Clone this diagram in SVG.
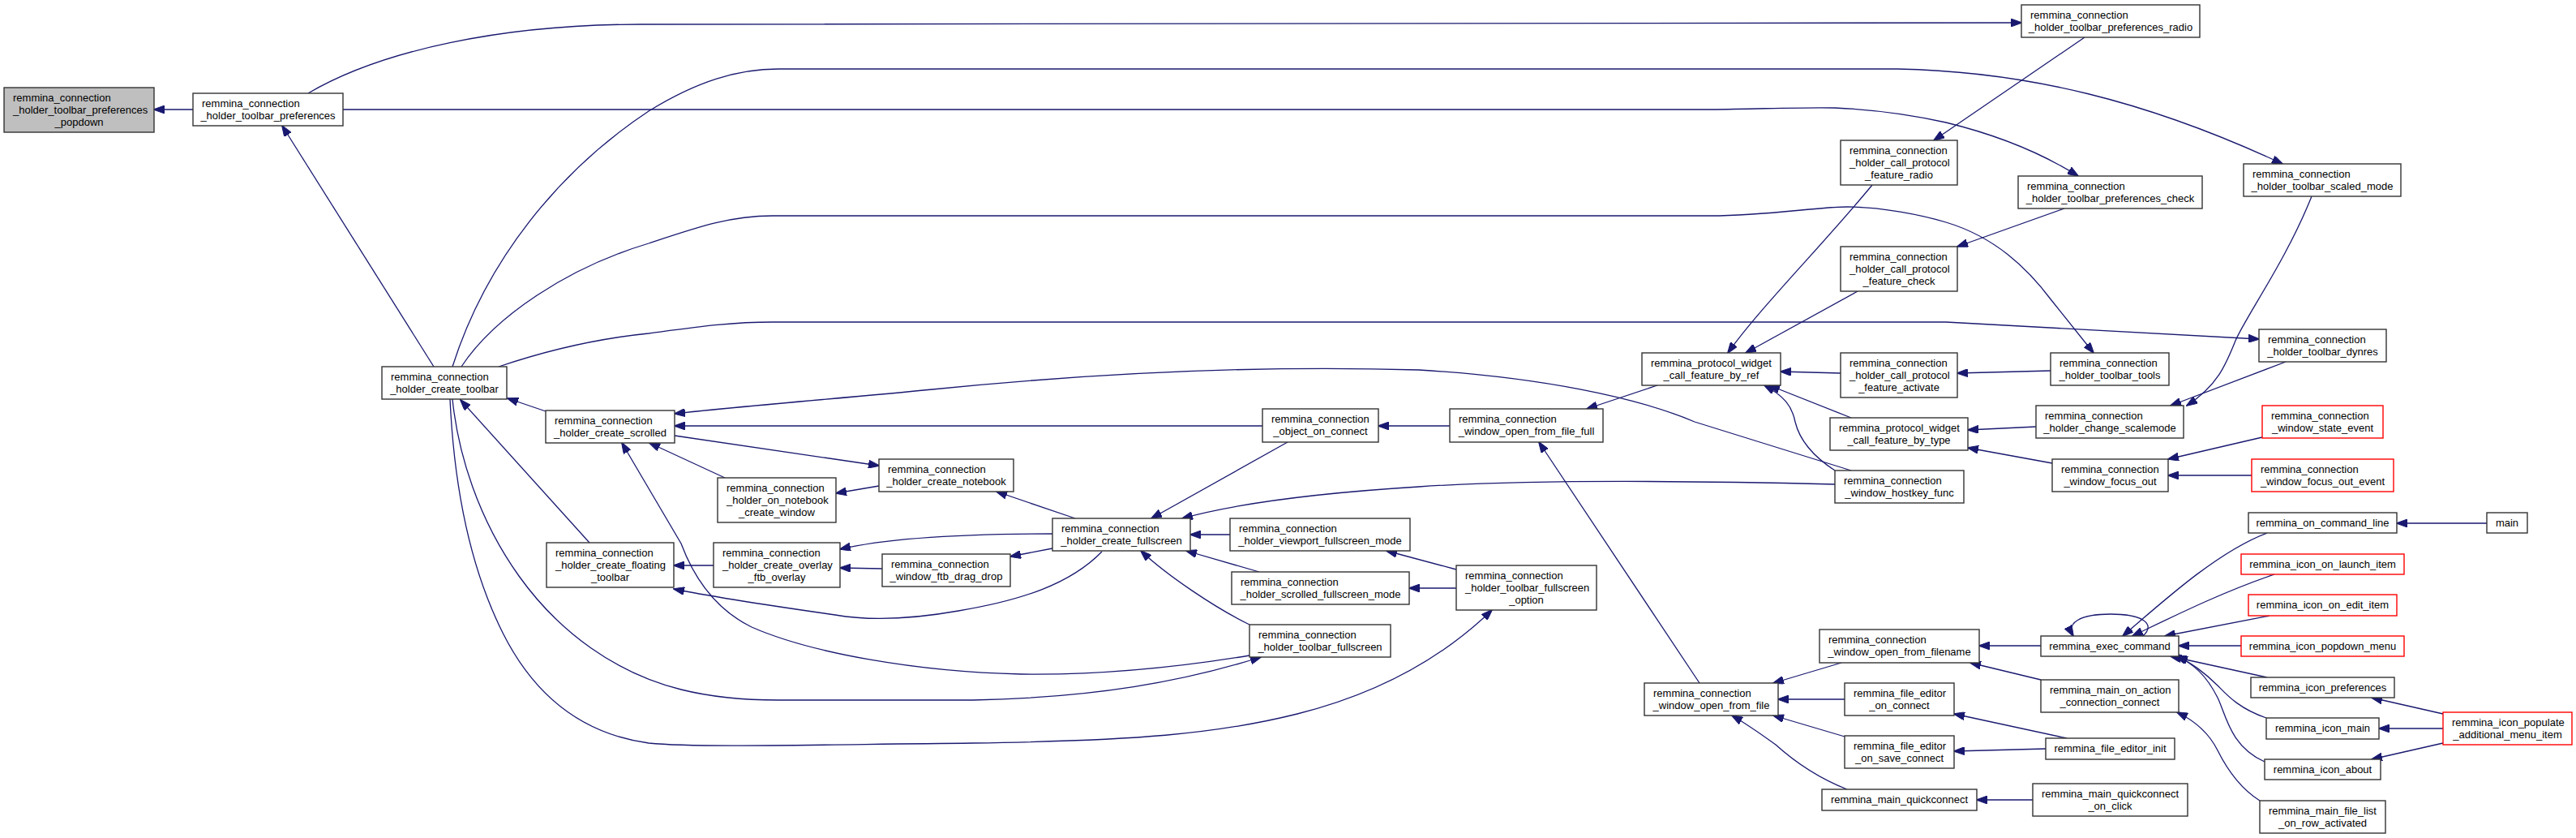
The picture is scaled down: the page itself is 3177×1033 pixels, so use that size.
<svg xmlns="http://www.w3.org/2000/svg" width="3177" height="1033" viewBox="0 0 3177 1033">
<style>
.n rect{fill:#fff;stroke:#333;stroke-width:1.4}
.n.red rect{stroke:#f00}
.n.root rect{fill:#bfbfbf}
.n text{font-family:'Liberation Sans',Arial,sans-serif;font-size:13px;fill:#000}
.n text.c{text-anchor:middle}
#edges path{fill:none;stroke:#191970;stroke-width:1.3;marker-end:url(#ah)}
</style>
<defs>
<marker id="ah" markerUnits="userSpaceOnUse" markerWidth="14" markerHeight="10" viewBox="0 0 14 10" refX="13" refY="5" orient="auto">
<path d="M0,0 L14,5 L0,10 z" fill="#191970" stroke="#191970"/>
</marker>
</defs>
<rect width="3177" height="1033" fill="#fff"/>
<g id="edges">
<path d="M238,135 L190,135"/>
<path d="M535,452 L348,155"/>
<path d="M380,115 C470,62 620,30 790,30 L2493,28"/>
<path d="M423,135 L2110,135 C2180,134 2230,132 2263,133 C2310,135 2360,142 2400,151 C2470,168 2520,190 2563,217"/>
<path d="M558,452 C600,320 690,210 800,137 C860,100 910,85 960,85 L2340,85 C2500,88 2650,125 2815,202"/>
<path d="M569,452 C610,390 700,330 800,300 C860,280 900,266 953,266 L2110,266 C2180,266 2240,255 2278,255 C2320,255 2370,265 2400,274 C2460,292 2500,330 2530,370 C2550,395 2570,420 2582,435"/>
<path d="M615,452 C680,430 740,417 800,411 C860,403 900,397 953,397 L2400,397 L2786,418"/>
<path d="M2283,580 L2090,520 C2020,490 1900,465 1750,456 C1550,450 1350,460 1150,480 C1050,490 920,500 832,510"/>
<path d="M673,507 L626,491"/>
<path d="M727,669 L568,493"/>
<path d="M558,492 C565,560 590,640 640,710 C690,780 760,830 840,850 C880,860 920,863 960,863 L1200,863 C1350,860 1460,840 1555,810"/>
<path d="M555,492 C560,600 580,700 620,780 C660,860 720,905 800,916 C860,922 1000,918 1200,916 C1400,913 1500,905 1600,880 C1700,855 1780,810 1840,752"/>
<path d="M1541,808 C1420,828 1330,832 1259,831 C1130,828 1000,805 927,773 C880,750 855,710 840,670 L767,546"/>
<path d="M1557,525 L832,525"/>
<path d="M832,537 L1084,574"/>
<path d="M894,589 L801,546"/>
<path d="M1084,599 L1031,608"/>
<path d="M1326,639 L1229,606"/>
<path d="M1298,658 C1200,658 1100,662 1036,677"/>
<path d="M1298,676 L1246,686"/>
<path d="M1088,701 L1036,700"/>
<path d="M880,697 L831,697"/>
<path d="M1359,680 C1320,720 1260,740 1182,753 C1120,764 1070,765 1030,758 C960,748 880,736 831,726"/>
<path d="M1517,659 L1468,659"/>
<path d="M1553,705 L1463,679"/>
<path d="M1541,770 C1500,750 1440,710 1407,679"/>
<path d="M1588,545 L1420,639"/>
<path d="M2263,597 C2100,593 1900,590 1750,600 C1620,608 1520,622 1458,639"/>
<path d="M1788,525 L1700,525"/>
<path d="M2096,842 L1898,545"/>
<path d="M1796,702 L1710,679"/>
<path d="M1796,725 L1738,725"/>
<path d="M2271,817 L2187,842"/>
<path d="M2275,862 L2193,862"/>
<path d="M2275,908 L2187,882"/>
<path d="M2278,973 C2250,962 2220,945 2190,918 C2165,900 2150,890 2136,882"/>
<path d="M2263,580 C2240,565 2220,545 2214,520 C2210,500 2200,488 2176,475"/>
<path d="M2283,515 L2182,475"/>
<path d="M2044,475 L1957,504"/>
<path d="M2309,228 C2250,300 2170,380 2131,435"/>
<path d="M2291,359 L2153,435"/>
<path d="M2270,460 L2196,458"/>
<path d="M2571,46 L2385,173"/>
<path d="M2546,257 L2414,304"/>
<path d="M2529,457 L2414,460"/>
<path d="M2851,242 C2820,320 2770,390 2757,420 C2745,450 2735,475 2697,500"/>
<path d="M2819,446 L2677,500"/>
<path d="M2511,526 L2427,530"/>
<path d="M2531,571 L2427,552"/>
<path d="M2790,539 L2674,566"/>
<path d="M2777,586 L2674,586"/>
<path d="M3067,645 L2956,645"/>
<path d="M2796,657 C2740,678 2680,730 2618,784"/>
<path d="M2805,708 C2740,730 2680,760 2630,784"/>
<path d="M2799,759 L2670,784"/>
<path d="M2764,796 L2687,796"/>
<path d="M2796,835 L2677,809"/>
<path d="M2795,885 C2760,873 2745,855 2735,845 C2720,830 2700,815 2685,809"/>
<path d="M2793,939 C2750,920 2745,880 2735,860 C2720,830 2700,815 2683,809"/>
<path d="M2643,784 C2660,768 2640,757 2603,757 C2565,757 2548,768 2557,784"/>
<path d="M3013,880 L2925,860"/>
<path d="M3013,898 L2934,898"/>
<path d="M3013,916 L2925,936"/>
<path d="M2787,987 C2760,970 2745,945 2735,925 C2725,905 2710,890 2685,878"/>
<path d="M2517,796 L2441,796"/>
<path d="M2517,838 L2430,817"/>
<path d="M2549,910 L2410,880"/>
<path d="M2523,923 L2410,926"/>
<path d="M2507,986 L2438,986"/>
</g>
<g id="popdown" class="n root"><rect x="5" y="108" width="185" height="55"/><text x="16" y="125">remmina_connection</text><text x="16" y="140">_holder_toolbar_preferences</text><text class="c" x="97.5" y="155">_popdown</text></g>
<g id="toolbar_preferences" class="n"><rect x="238" y="115" width="185" height="40"/><text x="249" y="132">remmina_connection</text><text class="c" x="330.5" y="147">_holder_toolbar_preferences</text></g>
<g id="create_toolbar" class="n"><rect x="471" y="452" width="154" height="40"/><text x="482" y="469">remmina_connection</text><text class="c" x="548" y="484">_holder_create_toolbar</text></g>
<g id="create_scrolled" class="n"><rect x="673" y="506" width="159" height="40"/><text x="684" y="523">remmina_connection</text><text class="c" x="752.5" y="538">_holder_create_scrolled</text></g>
<g id="create_floating_toolbar" class="n"><rect x="674" y="669" width="157" height="55"/><text x="685" y="686">remmina_connection</text><text x="685" y="701">_holder_create_floating</text><text class="c" x="752.5" y="716">_toolbar</text></g>
<g id="on_notebook_create_window" class="n"><rect x="885" y="589" width="146" height="55"/><text x="896" y="606">remmina_connection</text><text x="896" y="621">_holder_on_notebook</text><text class="c" x="958" y="636">_create_window</text></g>
<g id="create_notebook" class="n"><rect x="1084" y="566" width="166" height="40"/><text x="1095" y="583">remmina_connection</text><text class="c" x="1167" y="598">_holder_create_notebook</text></g>
<g id="create_overlay_ftb_overlay" class="n"><rect x="880" y="669" width="156" height="55"/><text x="891" y="686">remmina_connection</text><text x="891" y="701">_holder_create_overlay</text><text class="c" x="958" y="716">_ftb_overlay</text></g>
<g id="window_ftb_drag_drop" class="n"><rect x="1088" y="683" width="158" height="40"/><text x="1099" y="700">remmina_connection</text><text class="c" x="1167" y="715">_window_ftb_drag_drop</text></g>
<g id="create_fullscreen" class="n"><rect x="1298" y="639" width="170" height="40"/><text x="1309" y="656">remmina_connection</text><text class="c" x="1383" y="671">_holder_create_fullscreen</text></g>
<g id="object_on_connect" class="n"><rect x="1557" y="504" width="143" height="41"/><text x="1568" y="521">remmina_connection</text><text class="c" x="1628.5" y="536">_object_on_connect</text></g>
<g id="window_open_from_file_full" class="n"><rect x="1788" y="504" width="189" height="41"/><text x="1799" y="521">remmina_connection</text><text class="c" x="1882.5" y="536">_window_open_from_file_full</text></g>
<g id="viewport_fullscreen_mode" class="n"><rect x="1517" y="639" width="222" height="40"/><text x="1528" y="656">remmina_connection</text><text class="c" x="1628" y="671">_holder_viewport_fullscreen_mode</text></g>
<g id="scrolled_fullscreen_mode" class="n"><rect x="1519" y="705" width="219" height="40"/><text x="1530" y="722">remmina_connection</text><text class="c" x="1628.5" y="737">_holder_scrolled_fullscreen_mode</text></g>
<g id="toolbar_fullscreen" class="n"><rect x="1541" y="770" width="174" height="40"/><text x="1552" y="787">remmina_connection</text><text class="c" x="1628" y="802">_holder_toolbar_fullscreen</text></g>
<g id="toolbar_fullscreen_option" class="n"><rect x="1796" y="697" width="173" height="55"/><text x="1807" y="714">remmina_connection</text><text x="1807" y="729">_holder_toolbar_fullscreen</text><text class="c" x="1882.5" y="744">_option</text></g>
<g id="window_open_from_file" class="n"><rect x="2028" y="842" width="165" height="40"/><text x="2039" y="859">remmina_connection</text><text class="c" x="2110.5" y="874">_window_open_from_file</text></g>
<g id="call_feature_by_ref" class="n"><rect x="2025" y="435" width="171" height="40"/><text x="2036" y="452">remmina_protocol_widget</text><text class="c" x="2110.5" y="467">_call_feature_by_ref</text></g>
<g id="call_protocol_feature_radio" class="n"><rect x="2270" y="173" width="144" height="55"/><text x="2281" y="190">remmina_connection</text><text x="2281" y="205">_holder_call_protocol</text><text class="c" x="2342" y="220">_feature_radio</text></g>
<g id="call_protocol_feature_check" class="n"><rect x="2270" y="304" width="144" height="55"/><text x="2281" y="321">remmina_connection</text><text x="2281" y="336">_holder_call_protocol</text><text class="c" x="2342" y="351">_feature_check</text></g>
<g id="call_protocol_feature_activate" class="n"><rect x="2270" y="435" width="144" height="55"/><text x="2281" y="452">remmina_connection</text><text x="2281" y="467">_holder_call_protocol</text><text class="c" x="2342" y="482">_feature_activate</text></g>
<g id="call_feature_by_type" class="n"><rect x="2257" y="515" width="170" height="40"/><text x="2268" y="532">remmina_protocol_widget</text><text class="c" x="2342" y="547">_call_feature_by_type</text></g>
<g id="window_hostkey_func" class="n"><rect x="2263" y="580" width="159" height="40"/><text x="2274" y="597">remmina_connection</text><text class="c" x="2342.5" y="612">_window_hostkey_func</text></g>
<g id="toolbar_preferences_radio" class="n"><rect x="2493" y="6" width="220" height="40"/><text x="2504" y="23">remmina_connection</text><text class="c" x="2603" y="38">_holder_toolbar_preferences_radio</text></g>
<g id="toolbar_preferences_check" class="n"><rect x="2489" y="217" width="227" height="40"/><text x="2500" y="234">remmina_connection</text><text class="c" x="2602.5" y="249">_holder_toolbar_preferences_check</text></g>
<g id="toolbar_scaled_mode" class="n"><rect x="2767" y="202" width="194" height="40"/><text x="2778" y="219">remmina_connection</text><text class="c" x="2864" y="234">_holder_toolbar_scaled_mode</text></g>
<g id="toolbar_tools" class="n"><rect x="2529" y="435" width="146" height="40"/><text x="2540" y="452">remmina_connection</text><text class="c" x="2602" y="467">_holder_toolbar_tools</text></g>
<g id="toolbar_dynres" class="n"><rect x="2786" y="406" width="157" height="40"/><text x="2797" y="423">remmina_connection</text><text class="c" x="2864.5" y="438">_holder_toolbar_dynres</text></g>
<g id="change_scalemode" class="n"><rect x="2511" y="500" width="182" height="40"/><text x="2522" y="517">remmina_connection</text><text class="c" x="2602" y="532">_holder_change_scalemode</text></g>
<g id="window_state_event" class="n red"><rect x="2790" y="500" width="149" height="40"/><text x="2801" y="517">remmina_connection</text><text class="c" x="2864.5" y="532">_window_state_event</text></g>
<g id="window_focus_out" class="n"><rect x="2531" y="566" width="143" height="40"/><text x="2542" y="583">remmina_connection</text><text class="c" x="2602.5" y="598">_window_focus_out</text></g>
<g id="window_focus_out_event" class="n red"><rect x="2777" y="566" width="175" height="40"/><text x="2788" y="583">remmina_connection</text><text class="c" x="2864.5" y="598">_window_focus_out_event</text></g>
<g id="on_command_line" class="n"><rect x="2773" y="632" width="183" height="25"/><text class="c" x="2864.5" y="649">remmina_on_command_line</text></g>
<g id="main" class="n"><rect x="3067" y="632" width="50" height="25"/><text class="c" x="3092" y="649">main</text></g>
<g id="icon_on_launch_item" class="n red"><rect x="2764" y="683" width="201" height="25"/><text class="c" x="2864.5" y="700">remmina_icon_on_launch_item</text></g>
<g id="icon_on_edit_item" class="n red"><rect x="2773" y="733" width="183" height="26"/><text class="c" x="2864.5" y="750">remmina_icon_on_edit_item</text></g>
<g id="icon_popdown_menu" class="n red"><rect x="2764" y="784" width="201" height="25"/><text class="c" x="2864.5" y="801">remmina_icon_popdown_menu</text></g>
<g id="icon_preferences" class="n"><rect x="2776" y="835" width="177" height="25"/><text class="c" x="2864.5" y="852">remmina_icon_preferences</text></g>
<g id="icon_main" class="n"><rect x="2795" y="885" width="139" height="26"/><text class="c" x="2864.5" y="902">remmina_icon_main</text></g>
<g id="icon_about" class="n"><rect x="2793" y="936" width="143" height="25"/><text class="c" x="2864.5" y="953">remmina_icon_about</text></g>
<g id="main_file_list_on_row_activated" class="n"><rect x="2787" y="987" width="155" height="40"/><text x="2798" y="1004">remmina_main_file_list</text><text class="c" x="2864.5" y="1019">_on_row_activated</text></g>
<g id="icon_populate_additional_menu_item" class="n red"><rect x="3013" y="878" width="159" height="40"/><text x="3024" y="895">remmina_icon_populate</text><text class="c" x="3092.5" y="910">_additional_menu_item</text></g>
<g id="exec_command" class="n"><rect x="2517" y="784" width="170" height="25"/><text class="c" x="2602" y="801">remmina_exec_command</text></g>
<g id="main_on_action_connection_connect" class="n"><rect x="2517" y="838" width="170" height="40"/><text x="2528" y="855">remmina_main_on_action</text><text class="c" x="2602" y="870">_connection_connect</text></g>
<g id="file_editor_init" class="n"><rect x="2523" y="910" width="159" height="26"/><text class="c" x="2602.5" y="927">remmina_file_editor_init</text></g>
<g id="main_quickconnect_on_click" class="n"><rect x="2507" y="966" width="191" height="40"/><text x="2518" y="983">remmina_main_quickconnect</text><text class="c" x="2602.5" y="998">_on_click</text></g>
<g id="window_open_from_filename" class="n"><rect x="2244" y="776" width="197" height="41"/><text x="2255" y="793">remmina_connection</text><text class="c" x="2342.5" y="808">_window_open_from_filename</text></g>
<g id="file_editor_on_connect" class="n"><rect x="2275" y="842" width="135" height="40"/><text x="2286" y="859">remmina_file_editor</text><text class="c" x="2342.5" y="874">_on_connect</text></g>
<g id="file_editor_on_save_connect" class="n"><rect x="2275" y="907" width="135" height="40"/><text x="2286" y="924">remmina_file_editor</text><text class="c" x="2342.5" y="939">_on_save_connect</text></g>
<g id="main_quickconnect" class="n"><rect x="2247" y="973" width="191" height="26"/><text class="c" x="2342.5" y="990">remmina_main_quickconnect</text></g>
</svg>
